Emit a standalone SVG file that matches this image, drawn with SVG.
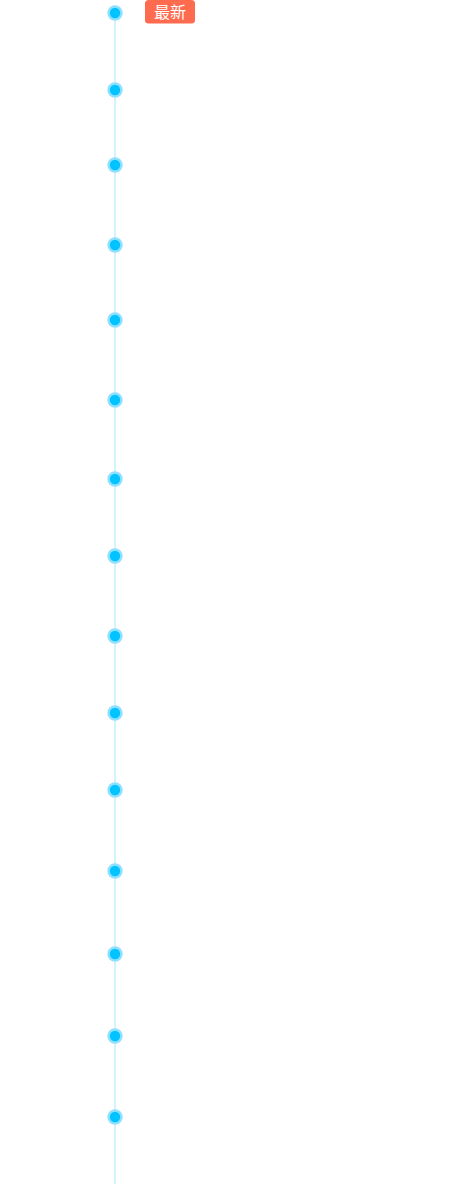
<svg xmlns="http://www.w3.org/2000/svg" width="468" height="1184" viewBox="0 0 468 1184">
  <style>
    .axis { stroke: #c2f0fc; stroke-width: 1.5; }
    .halo { fill: #8fe0ff; }
    .core { fill: #00c3ff; }
    .badge { fill: #ff6b4f; }
    .badge-text { fill: #ffffff; font-family: "Noto Sans CJK SC", "Liberation Sans", sans-serif; font-size: 16px; text-anchor: middle; }
  </style>
  <defs>
    <g id="dot">
      <circle class="halo" r="7.7"/>
      <circle class="core" r="5.2"/>
    </g>
  </defs>
  <g id="connectors">
    <line class="axis" x1="115" y1="13" x2="115" y2="1184"/>
  </g>
  <g id="node-1"><use href="#dot" x="115" y="13"/></g>
  <g id="node-2"><use href="#dot" x="115" y="90"/></g>
  <g id="node-3"><use href="#dot" x="115" y="165"/></g>
  <g id="node-4"><use href="#dot" x="115" y="245"/></g>
  <g id="node-5"><use href="#dot" x="115" y="320"/></g>
  <g id="node-6"><use href="#dot" x="115" y="400"/></g>
  <g id="node-7"><use href="#dot" x="115" y="479"/></g>
  <g id="node-8"><use href="#dot" x="115" y="556"/></g>
  <g id="node-9"><use href="#dot" x="115" y="636"/></g>
  <g id="node-10"><use href="#dot" x="115" y="713"/></g>
  <g id="node-11"><use href="#dot" x="115" y="790"/></g>
  <g id="node-12"><use href="#dot" x="115" y="871"/></g>
  <g id="node-13"><use href="#dot" x="115" y="954"/></g>
  <g id="node-14"><use href="#dot" x="115" y="1036"/></g>
  <g id="node-15"><use href="#dot" x="115" y="1117"/></g>
  <g id="badge-latest">
    <rect class="badge" x="145" y="0" width="50" height="23.5" rx="3.5"/>
    <text class="badge-text" x="170" y="17.5">最新</text>
  </g>
</svg>
